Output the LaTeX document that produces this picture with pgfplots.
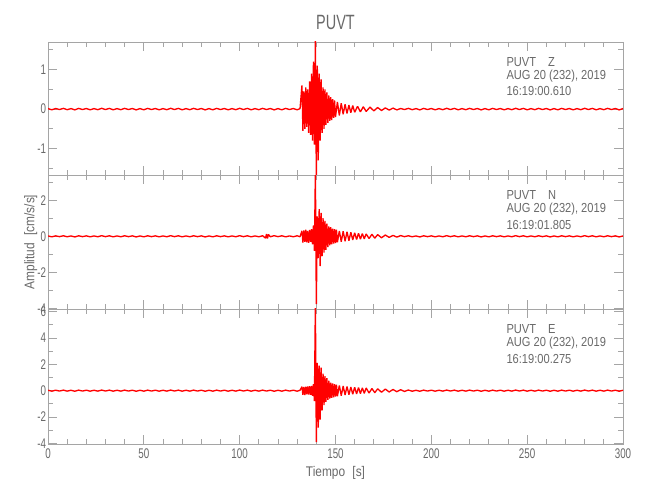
\documentclass[border=0pt]{standalone}
\usepackage{fontspec}
\setmainfont{Liberation Sans}[FakeStretch=0.7]
\newfontfamily\infofont{Liberation Sans}[FakeStretch=0.85]
\usepackage{pgfplots}
\usepackage{pgfplotstable}
\pgfplotsset{compat=1.18}

\definecolor{framegray}{RGB}{165,165,165}
\definecolor{txtgray}{RGB}{105,105,105}

% PUVT Z
\pgfplotstableread{
t a
0 0.012
2 -0.018
4 0.015
6 -0.012
8 0.018
10 -0.015
12 0.012
14 -0.02
16 0.018
18 -0.012
20 0.015
22 -0.018
24 0.012
26 -0.015
28 0.02
30 -0.012
32 0.018
34 -0.018
36 0.012
38 -0.015
40 0.018
42 -0.012
44 0.015
46 -0.02
48 0.012
50 -0.018
52 0.018
54 -0.012
56 0.015
58 -0.018
60 0.012
62 -0.015
64 0.02
66 -0.012
68 0.018
70 -0.018
72 0.012
74 -0.015
76 0.018
78 -0.012
80 0.015
82 -0.02
84 0.012
86 -0.018
88 0.018
90 -0.012
92 0.015
94 -0.018
96 0.012
98 -0.015
100 0.02
102 -0.012
104 0.018
106 -0.018
108 0.012
110 -0.015
112 0.018
114 -0.012
116 0.015
118 -0.02
120 0.012
122 -0.018
124 0.018
126 -0.012
128 0.015
130 -0.018
131.5 0.012
132.5 0.6
133 -0.55
133.5 0.45
134 -0.5
134.5 0.55
135 -0.45
135.5 0.5
136 -0.6
136.5 0.7
137 -0.65
137.5 0.9
138 -0.8
138.5 1.2
139 -0.9
139.5 1.75
140 -1.75
140.5 1.1
141 -1.3
141.5 0.9
142 -0.8
142.5 0.75
143 -0.6
143.5 0.55
144 -0.5
144.5 0.5
145 -0.4
145.5 0.42
146 -0.35
146.5 0.35
147 -0.3
147.5 0.3
148 -0.28
148.5 0.25
149 -0.22
149.5 0.22
150 -0.2
151 0.18
152 -0.16
153 0.15
154 -0.13
155 0.12
156 -0.11
157 0.1
158 -0.09
159 0.09
160 -0.08
161.5 0.07
163 -0.07
164.5 0.06
166 -0.06
168 0.05
170 -0.045
172 0.04
174 -0.035
176 0.03
178 -0.025
180 0.025
182 -0.02
184 0.015
186 -0.012
188 0.018
190 -0.015
192 0.012
194 -0.02
196 0.018
198 -0.012
200 0.015
202 -0.018
204 0.012
206 -0.015
208 0.02
210 -0.012
212 0.018
214 -0.018
216 0.012
218 -0.015
220 0.018
222 -0.012
224 0.015
226 -0.02
228 0.012
230 -0.018
232 0.018
234 -0.012
236 0.015
238 -0.018
240 0.012
242 -0.015
244 0.02
246 -0.012
248 0.018
250 -0.018
252 0.012
254 -0.015
256 0.018
258 -0.012
260 0.015
262 -0.02
264 0.012
266 -0.018
268 0.018
270 -0.012
272 0.015
274 -0.018
276 0.012
278 -0.015
280 0.02
282 -0.012
284 0.018
286 -0.018
288 0.012
290 -0.015
292 0.018
294 -0.012
296 0.015
298 -0.02
300 0.012
}\traceZ

% PUVT N
\pgfplotstableread{
t a
0 0.02
2 -0.03
4 0.025
6 -0.02
8 0.03
10 -0.025
12 0.02
14 -0.035
16 0.03
18 -0.02
20 0.025
22 -0.03
24 0.02
26 -0.025
28 0.035
30 -0.02
32 0.03
34 -0.03
36 0.02
38 -0.025
40 0.03
42 -0.02
44 0.025
46 -0.035
48 0.02
50 -0.03
52 0.03
54 -0.02
56 0.025
58 -0.03
60 0.02
62 -0.025
64 0.035
66 -0.02
68 0.03
70 -0.03
72 0.02
74 -0.025
76 0.03
78 -0.02
80 0.025
82 -0.035
84 0.02
86 -0.03
88 0.03
90 -0.02
92 0.025
94 -0.03
96 0.02
98 -0.025
100 0.035
102 -0.02
104 0.03
106 -0.03
108 0.02
110 -0.025
112 0.03
113.5 -0.1
114 0.13
114.5 -0.12
115 0.1
116 -0.025
118 0.035
120 -0.02
122 0.03
124 -0.03
126 0.02
128 -0.025
130 0.03
131.5 -0.025
132.5 0.3
133 -0.35
133.5 0.32
134 -0.3
134.5 0.36
135 -0.33
135.5 0.3
136 -0.36
136.5 0.35
137 -0.3
137.5 0.4
138 -0.45
138.5 0.6
139 -0.8
139.5 3.6
140 -3.75
140.5 1.1
141 -1.2
141.5 1.5
142 -1.65
142.5 1.3
143 -1.1
143.5 1.0
144 -0.9
144.5 0.85
145 -0.75
145.5 0.7
146 -0.6
146.5 0.55
147 -0.5
147.5 0.5
148 -0.45
148.5 0.42
149 -0.4
149.5 0.4
150 -0.38
150.5 0.36
151 -0.33
152 0.3
153 -0.3
154 0.28
155 -0.27
156 0.25
157 -0.24
158 0.22
159 -0.2
160 0.2
161 -0.18
162 0.17
163 -0.16
164 0.15
165 -0.14
166 0.13
167.5 -0.12
169 0.11
170.5 -0.1
172 0.09
174 -0.08
176 0.07
178 -0.06
180 0.05
182 -0.045
184 0.04
186 -0.02
188 0.03
190 -0.025
192 0.02
194 -0.035
196 0.03
198 -0.02
200 0.025
202 -0.03
204 0.02
206 -0.025
208 0.035
210 -0.02
212 0.03
214 -0.03
216 0.02
218 -0.025
220 0.03
222 -0.02
224 0.025
226 -0.035
228 0.02
230 -0.03
232 0.03
234 -0.02
236 0.025
238 -0.03
240 0.02
242 -0.025
244 0.035
246 -0.02
248 0.03
250 -0.03
252 0.02
254 -0.025
256 0.03
258 -0.02
260 0.025
262 -0.035
264 0.02
266 -0.03
268 0.03
270 -0.02
272 0.025
274 -0.03
276 0.02
278 -0.025
280 0.035
282 -0.02
284 0.03
286 -0.03
288 0.02
290 -0.025
292 0.03
294 -0.02
296 0.025
298 -0.035
300 0.02
}\traceN

% PUVT E
\pgfplotstableread{
t a
0 0.03
2 -0.04
4 0.035
6 -0.03
8 0.04
10 -0.035
12 0.03
14 -0.045
16 0.04
18 -0.03
20 0.035
22 -0.04
24 0.03
26 -0.035
28 0.045
30 -0.03
32 0.04
34 -0.04
36 0.03
38 -0.035
40 0.04
42 -0.03
44 0.035
46 -0.045
48 0.03
50 -0.04
52 0.04
54 -0.03
56 0.035
58 -0.04
60 0.03
62 -0.035
64 0.045
66 -0.03
68 0.04
70 -0.04
72 0.03
74 -0.035
76 0.04
78 -0.03
80 0.035
82 -0.045
84 0.03
86 -0.04
88 0.04
90 -0.03
92 0.035
94 -0.04
96 0.03
98 -0.035
100 0.045
102 -0.03
104 0.04
106 -0.04
108 0.03
110 -0.035
112 0.04
114 -0.03
116 0.035
118 -0.045
120 0.03
122 -0.04
124 0.04
126 -0.03
128 0.035
130 -0.04
131.5 0.03
132.5 0.3
133 -0.32
133.5 0.28
134 -0.33
134.5 0.3
135 -0.28
135.5 0.32
136 -0.3
136.5 0.33
137 -0.32
137.5 0.35
138 -0.4
138.5 0.5
139 -0.8
139.5 6.6
140 -3.9
140.5 2.1
141 -2.8
141.5 1.9
142 -2.2
142.5 1.75
143 -1.5
143.5 1.3
144 -1.1
144.5 1.1
145 -0.85
145.5 0.95
146 -0.7
146.5 0.75
147 -0.6
147.5 0.6
148 -0.55
148.5 0.55
149 -0.5
149.5 0.5
150 -0.45
150.5 0.45
151 -0.42
152 0.4
153 -0.38
154 0.35
155 -0.33
156 0.32
157 -0.3
158 0.28
159 -0.27
160 0.26
161 -0.25
162 0.24
163 -0.22
164 0.21
165 -0.2
166 0.2
167.5 -0.18
169 0.16
170.5 -0.15
172 0.14
174 -0.12
176 0.12
178 -0.1
180 0.09
182 -0.08
184 0.07
186 -0.06
188 0.05
190 -0.045
192 0.03
194 -0.045
196 0.04
198 -0.03
200 0.035
202 -0.04
204 0.03
206 -0.035
208 0.045
210 -0.03
212 0.04
214 -0.04
216 0.03
218 -0.035
220 0.04
222 -0.03
224 0.035
226 -0.045
228 0.03
230 -0.04
232 0.04
234 -0.03
236 0.035
238 -0.04
240 0.03
242 -0.035
244 0.045
246 -0.03
248 0.04
250 -0.04
252 0.03
254 -0.035
256 0.04
258 -0.03
260 0.035
262 -0.045
264 0.03
266 -0.04
268 0.04
270 -0.03
272 0.035
274 -0.04
276 0.03
278 -0.035
280 0.045
282 -0.03
284 0.04
286 -0.04
288 0.03
290 -0.035
292 0.04
294 -0.03
296 0.035
298 -0.045
300 0.03
}\traceE

\pgfplotsset{
  seis/.style={
    scale only axis,
    width=431.25pt,
    anchor=south west,
    xmin=0, xmax=300,
    clip mode=individual,
    axis line style={framegray, line width=0.6pt},
    every tick/.style={framegray, line width=0.6pt},
    tick align=inside,
    tick pos=both,
    yticklabel pos=left,
    major tick length=6.75pt,
    minor tick length=3.4pt,
    xtick={0,50,...,300},
    minor xtick={10,20,30,40,60,70,80,90,110,120,130,140,160,170,180,190,210,220,230,240,260,270,280,290},
    tick label style={font=\fontsize{10.5}{12}\selectfont, text=txtgray},
    /pgf/number format/assume math mode=true,
    yticklabel style={inner sep=1.2pt},
  },
  trace/.style={red, line width=1pt, no markers, line join=bevel},
}
\tikzset{
  info/.style={anchor=west, text=txtgray, font=\infofont\fontsize{9.8}{11}\selectfont, inner sep=0pt},
}

\begin{document}
\begin{tikzpicture}
\useasboundingbox (0,0) rectangle (487.5pt,375pt);

% Z component
\begin{axis}[seis,
    at={(36pt,243.75pt)}, height=99.75pt,
    ymin=-1.67, ymax=1.70,
    ytick={-1,0,1},
    minor ytick={-1.5,-0.5,0.5,1.5},
    xticklabels={,,,,,,},
]
\addplot[trace] table[x=t, y=a] {\traceZ};
\node[text=txtgray, font=\fontsize{15.5}{18}\selectfont] at (axis description cs:0.5,1.15) {PUVT};
\node[info] at (axis description cs:0.797,0.85) {PUVT\hspace{9pt}Z};
\node[info] at (axis description cs:0.797,0.745) {AUG 20 (232), 2019};
\node[info] at (axis description cs:0.797,0.63) {16:19:00.610};
\end{axis}

% N component
\begin{axis}[seis,
    at={(36pt,143.25pt)}, height=100.5pt,
    ymin=-4.02, ymax=3.39,
    ytick={-4,-2,0,2},
    minor ytick={-3,-1,1,3},
    xticklabels={,,,,,,},
]
\addplot[trace] table[x=t, y=a] {\traceN};
\node[rotate=90, text=txtgray, font=\infofont\fontsize{10.5}{12}\selectfont] at (axis description cs:-0.03,0.5) {Amplitud\hspace{3pt} [cm/s/s]};
\node[info] at (axis description cs:0.797,0.85) {PUVT\hspace{9pt}N};
\node[info] at (axis description cs:0.797,0.745) {AUG 20 (232), 2019};
\node[info] at (axis description cs:0.797,0.63) {16:19:01.805};
\end{axis}

% E component
\begin{axis}[seis,
    at={(36pt,42pt)}, height=101.25pt,
    ymin=-4.05, ymax=6.2,
    ytick={-4,-2,0,2,4,6},
    minor ytick={-3,-1,1,3,5},
]
\addplot[trace] table[x=t, y=a] {\traceE};
\node[text=txtgray, font=\infofont\fontsize{10.5}{12}\selectfont] at (axis description cs:0.5,-0.215) {Tiempo\hspace{3pt} [s]};
\node[info] at (axis description cs:0.797,0.85) {PUVT\hspace{9pt}E};
\node[info] at (axis description cs:0.797,0.745) {AUG 20 (232), 2019};
\node[info] at (axis description cs:0.797,0.63) {16:19:00.275};
\end{axis}
\end{tikzpicture}
\end{document}
